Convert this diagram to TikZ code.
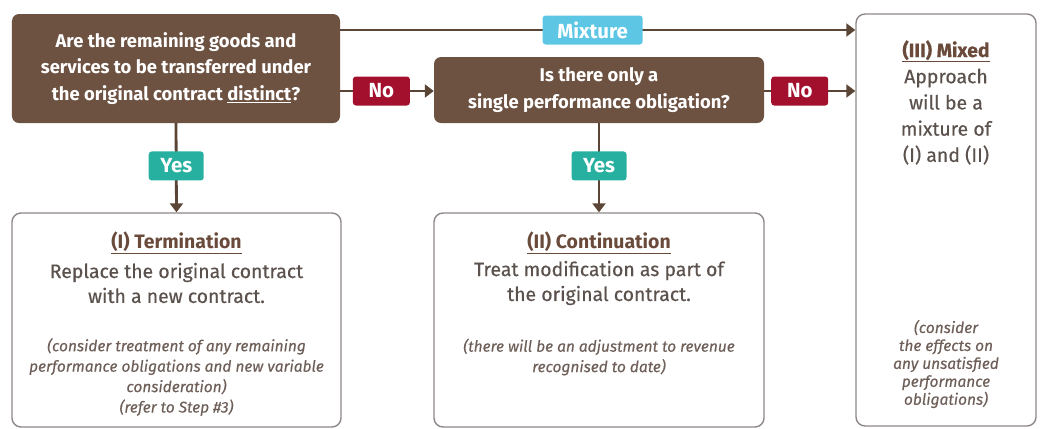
\documentclass[tikz,border=0pt]{standalone}
\usepackage{fontspec}
\setmainfont{Fira Sans}
\newfontfamily\medfont{Fira Sans}[FakeBold=0.4]
\newfontfamily\mednotefont{Fira Sans Italic}[FakeBold=0.3]
\usetikzlibrary{arrows.meta}
\definecolor{qbrown}{HTML}{6D5242}
\definecolor{arrowbrown}{HTML}{5A4536}
\definecolor{nored}{HTML}{A3102E}
\definecolor{mixcyan}{HTML}{5CC6E4}
\definecolor{yesteal}{HTML}{27B0A0}
\definecolor{boxborder}{HTML}{8E8886}
\definecolor{bodytext}{HTML}{5C524D}
\definecolor{titletext}{HTML}{6A4B3B}
\definecolor{notetext}{HTML}{6E5F58}
\tikzset{
  qbox/.style={fill=qbrown, rounded corners=7bp, text=white, align=center, inner sep=0pt,
    font=\fontsize{18.5}{27}\selectfont\bfseries},
  outbox/.style={draw=boxborder, line width=1.4bp, fill=white, rounded corners=9bp, inner sep=0pt},
  conn/.style={draw=arrowbrown, line width=2.8bp, -{Triangle[width=13bp,length=9bp]}},
  tag/.style={rounded corners=3bp, text=white, inner sep=0pt, minimum height=29bp,
    font=\fontsize{20.5}{22}\selectfont\bfseries},
  notag/.style={tag, fill=nored, minimum width=57bp},
  yestag/.style={tag, fill=yesteal, minimum width=55bp},
  mixtag/.style={tag, fill=mixcyan, minimum width=100bp},
  titlelbl/.style={text=titletext, align=center, inner sep=0pt, font=\fontsize{19.5}{25}\selectfont\bfseries},
  bodylbl/.style={text=bodytext, align=center, inner sep=0pt, font=\fontsize{19.5}{25}\selectfont\medfont},
  notelbl/.style={text=notetext, align=center, inner sep=0pt, font=\fontsize{15.5}{20.5}\selectfont\mednotefont},
}
\begin{document}
\begin{tikzpicture}[x=1bp,y=-1bp]
\useasboundingbox (0,0) rectangle (1041,428);
% decision boxes
\node[qbox, minimum width=328bp, minimum height=109bp] (q1) at (176,68.5)
  {\rule{0pt}{5bp}Are the remaining goods and\\services to be transferred under\\the original contract \underline{distinct}?};
\node[qbox, minimum width=330bp, minimum height=66bp] (q2) at (599,90)
  {Is there only a\\single performance obligation?};
% outcome boxes
\node[outbox, minimum width=329bp, minimum height=214bp] (b1) at (176.5,320) {};
\node[outbox, minimum width=330bp, minimum height=214bp] (b2) at (599,320) {};
\node[outbox, minimum width=180bp, minimum height=412bp] (b3) at (946,220) {};
% texts in outcome boxes
\node[titlelbl] (t1) at (176.5,243) {\underline{(I) Termination}};
\node[bodylbl] (m1) at (176.5,283) {Replace the original contract\\with a new contract.};
\node[notelbl] (n1) at (176.5,377) {(consider treatment of any remaining\\performance obligations and new variable\\consideration)\\(refer to Step \#3)};
\node[titlelbl] (t2) at (599,243) {\underline{(II) Continuation}};
\node[bodylbl] (m2) at (599,283) {Treat modification as part of\\the original contract.};
\node[notelbl] (n2) at (599,357) {(there will be an adjustment to revenue\\recognised to date)};
\node[bodylbl, font=\fontsize{19.5}{26.3}\selectfont\medfont] (m3) at (946,102.5)
  {{\bfseries\color{titletext}\underline{(III) Mixed}}\\Approach\\will be a\\mixture of\\(I) and (II)};
\node[notelbl, font=\fontsize{15.5}{18}\selectfont\mednotefont] (n3) at (946,364)
  {(consider\\the effects on\\any unsatisfied\\performance\\obligations)};
% connectors
\draw[conn] (q1.east |- 0,30) -- node[mixtag, pos=0.49] (lmix) {Mixture} (b3.west |- 0,30);
\draw[conn] (q1.east |- 0,91) -- node[notag, pos=0.44] (lno1) {No} (q2.west |- 0,91);
\draw[conn] (q2.east |- 0,91) -- node[notag, pos=0.39] (lno2) {No} (b3.west |- 0,91);
\draw[conn] (q1.south) -- node[yestag, pos=0.48] (lyes1) {Yes} (b1.north);
\draw[conn] (q2.south) -- node[yestag, pos=0.48] (lyes2) {Yes} (b2.north);
\end{tikzpicture}
\end{document}
